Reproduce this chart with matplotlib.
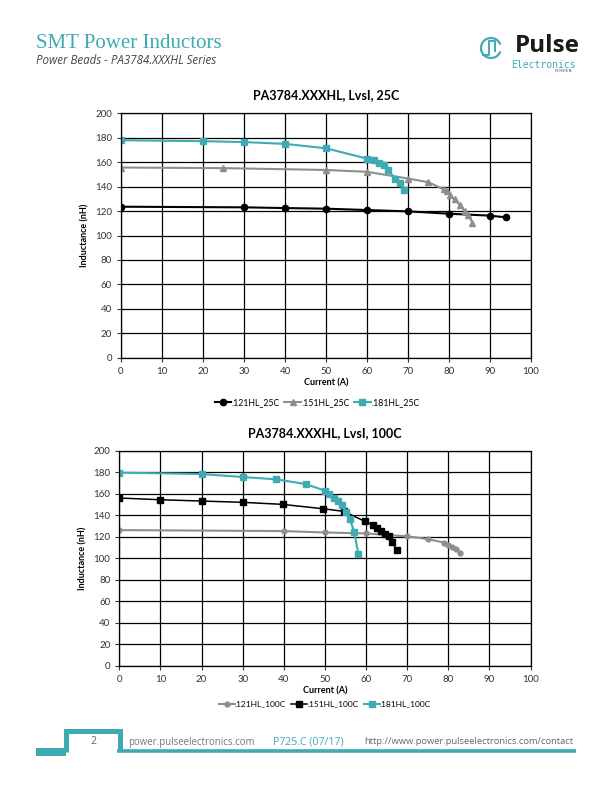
import matplotlib
matplotlib.use('Agg')
import matplotlib.pyplot as plt
from matplotlib.patches import Arc, Rectangle

# ---- data ----
# 25C chart
x121_25 = [0, 30, 40, 50, 60, 70, 80, 90, 94]
y121_25 = [123.5, 123.0, 122.4, 121.9, 120.8, 119.7, 117.8, 116.2, 114.8]
x151_25 = [0, 25, 50, 60, 70, 75, 78.7, 79.4, 80.2, 81.4, 82.7, 83.8, 84.7, 85.7]
y151_25 = [155.5, 155.0, 153.5, 152.0, 146.5, 143.5, 137.7, 136.0, 133.0, 129.5, 124.6, 120.2, 116.7, 110.5]
x181_25 = [0, 20, 30, 40, 50, 60, 61.7, 63, 64.1, 65.1, 66.9, 68, 69.1]
y181_25 = [177.8, 177.0, 176.3, 174.8, 171.2, 162.8, 161.3, 159.5, 157.3, 153.5, 146.4, 142.6, 137.0]

# 100C chart
x121_100 = [0, 40, 50, 60, 70, 75, 79, 79.9, 80.8, 81.8, 82.9]
y121_100 = [126.2, 125.3, 124.0, 123.1, 120.4, 117.9, 114.5, 112.6, 110.8, 108.6, 105.2]
x151_100 = [0, 10, 20, 30, 39.7, 49.6, 54.6, 59.7, 61.6, 62.6, 63.7, 64.6, 65.5, 66.4, 67.4]
y151_100 = [156.0, 154.4, 153.2, 152.0, 150.1, 146.0, 143.6, 134.3, 131.2, 128.4, 125.3, 122.6, 120.4, 114.8, 107.7]
x181_100 = [0, 20, 30, 38, 45.3, 50, 51, 52.2, 53.2, 54.2, 55.2, 56.1, 57.1, 58.1]
y181_100 = [179.6, 178.3, 175.5, 173.4, 169.0, 162.8, 159.7, 156.3, 153.2, 149.8, 143.0, 136.2, 124.4, 104.3]

xticks = list(range(0, 101, 10))
yticks = list(range(0, 201, 20))

teal = '#3FA9B4'
gray = '#8E8E8E'
cfont = 'Lato'

fig = plt.figure(figsize=(6.12, 7.92), dpi=100)


def setup(ax, title):
    ax.set_xlim(0, 100)
    ax.set_ylim(0, 200)
    ax.set_xticks(xticks)
    ax.set_yticks(yticks)
    ax.grid(True, color='black', linewidth=0.9)
    ax.set_axisbelow(True)
    for s in ax.spines.values():
        s.set_color('black')
        s.set_linewidth(0.9)
    ax.tick_params(labelsize=7, colors='#333333', length=3, width=0.8)
    for lab in ax.get_xticklabels() + ax.get_yticklabels():
        lab.set_family(cfont)
    ax.set_xlabel('Current (A)', fontsize=6.5, fontweight='bold', family=cfont, labelpad=2)
    ax.set_ylabel('Inductance (nH)', fontsize=6.5, fontweight='bold', family=cfont, labelpad=4)
    ax.set_title(title, fontsize=9, fontweight='bold', family=cfont, pad=10)


# ---- top chart ----
ax1 = fig.add_axes([0.1977, 0.548, 0.6699, 0.3093])
l1, = ax1.plot(x121_25, y121_25, color='black', marker='o', markersize=4.5, lw=1.5, label='.121HL_25C')
l2, = ax1.plot(x151_25, y151_25, color=gray, marker='^', markersize=5, lw=1.5, label='.151HL_25C')
l3, = ax1.plot(x181_25, y181_25, color=teal, marker='s', markersize=5, lw=1.5, label='.181HL_25C')
setup(ax1, 'PA3784.XXXHL, LvsI, 25C')
fig.legend(handles=[l1, l2, l3], loc='center', bbox_to_anchor=(0.518, 1 - 403 / 792), ncol=3,
           frameon=False, handlelength=1.9, handletextpad=0.05, columnspacing=0.5,
           prop={'family': cfont, 'size': 6.3})

# ---- bottom chart ----
ax2 = fig.add_axes([0.195, 0.1591, 0.672, 0.2719])
m1, = ax2.plot(x121_100, y121_100, color=gray, marker='o', markersize=3.5, lw=1.5, label='.121HL_100C')
m2, = ax2.plot(x151_100, y151_100, color='black', marker='s', markersize=5, lw=1.1, label='.151HL_100C')
m3, = ax2.plot(x181_100, y181_100, color=teal, marker='s', markersize=4, lw=1.5, label='.181HL_100C')
setup(ax2, 'PA3784.XXXHL, LvsI, 100C')
fig.legend(handles=[m1, m2, m3], loc='center', bbox_to_anchor=(0.531, 1 - 704 / 792), ncol=3,
           frameon=False, handlelength=1.9, handletextpad=0.05, columnspacing=0.6,
           prop={'family': cfont, 'size': 6})

# ---- page decoration (pixel coordinates) ----
deco = fig.add_axes([0, 0, 1, 1], zorder=-1)
deco.set_xlim(0, 612)
deco.set_ylim(792, 0)
deco.axis('off')

deco.text(36, 43, 'SMT Power Inductors', color=teal, fontsize=15, family='Liberation Serif', va='center')
deco.text(36, 61, 'Power Beads - PA3784.XXXHL Series', color='#444444', fontsize=8.3,
          style='italic', family='Open Sans', va='center')

# logo
deco.add_patch(Arc((491, 48), 20, 20, theta1=20, theta2=340, color=teal, lw=1.6))
deco.plot([483, 489, 489, 495, 495], [55, 55, 41, 41, 51], color=teal, lw=1.4)
deco.text(580, 52, 'Pulse', fontsize=17.5, fontweight='bold', family='Open Sans', color='#1a1a1a',
          ha='right', va='baseline')
deco.text(576, 64.5, 'Electronics', fontsize=7, family='DejaVu Sans Mono', color=teal,
          ha='right', va='center')
deco.text(573, 71.5, 'POWER', fontsize=3.6, family='Liberation Serif', color='#444444',
          ha='right', va='center')

# footer
deco.add_patch(Rectangle((36, 748), 30, 8, color=teal, lw=0))
deco.plot([65.5, 65.5, 119.5, 119.5], [752, 730.5, 730.5, 751], color=teal, lw=3.6,
          solid_joinstyle='miter', solid_capstyle='butt')
deco.plot([117, 576], [751, 751], color=teal, lw=2.6, solid_capstyle='butt')
deco.text(93, 742, '2', fontsize=7.5, color='#666666', family='Open Sans', ha='center', va='center')
deco.text(128, 742, 'power.pulseelectronics.com', fontsize=6.9, color='#777777', family='Open Sans',
          va='center')
deco.text(273, 742, 'P725.C (07/17)', fontsize=7.6, color=teal, family='Open Sans', va='center')
deco.text(364, 741, 'http://www.power.pulseelectronics.com/contact', fontsize=6.75, color='#666666',
          family='Open Sans', va='center')

fig.savefig('out.png', dpi=100)
